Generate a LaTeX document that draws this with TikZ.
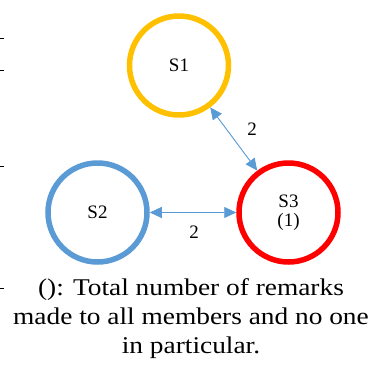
\documentclass[tikz,border=0pt]{standalone}
\usepackage{fontspec}
\setmainfont{Liberation Serif}
\newfontfamily\capfont[FakeStretch=1.14]{Liberation Serif}
\newfontfamily\lblfont{Liberation Serif}
\usetikzlibrary{arrows.meta}
\definecolor{sorange}{RGB}{255,192,0}
\definecolor{sblue}{RGB}{91,155,213}
\definecolor{sred}{RGB}{255,0,0}
\begin{document}
\begin{tikzpicture}[x=1pt,y=-1pt,
  member/.style={circle,draw,line width=5.5pt,minimum size=99pt,inner sep=0pt,font=\lblfont\fontsize{19}{23}\selectfont,align=center},
  link/.style={draw=sblue,line width=0.9pt,{Triangle[length=12pt,width=11pt]}-{Triangle[length=12pt,width=11pt]},fill=sblue},
  tick/.style={draw=black,line width=0.6pt},
  numlbl/.style={font=\lblfont\fontsize{19}{20}\selectfont}]
\useasboundingbox (0,0) rectangle (378,365);
\node[member,draw=sorange] (s1) at (179,65.5) {S1};
\node[member,draw=sblue] (s2) at (97.5,212.5) {S2};
\node[member,draw=sred] (s3) at (288.5,212.5) {\raisebox{-3pt}{\shortstack{S3\\[3pt](1)}}};
\draw[link] (s1) -- (s3);
\draw[link] (s2) -- (s3);
\node[numlbl] (l1) at (252,129) {2};
\node[numlbl] (l2) at (194,232) {2};
\node[align=center,font=\capfont\fontsize{24}{29}\selectfont] (cap) at (191,319) {(): Total number of remarks\\made to all members and no one\\in particular.};
\coordinate (t1a) at (0,38); \coordinate (t1b) at (4,38);
\coordinate (t2a) at (0,70); \coordinate (t2b) at (4,70);
\coordinate (t3a) at (0,166.5); \coordinate (t3b) at (4,166.5);
\coordinate (t4a) at (0,288); \coordinate (t4b) at (4,288);
\draw[tick] (t1a) -- (t1b);
\draw[tick] (t2a) -- (t2b);
\draw[tick] (t3a) -- (t3b);
\draw[tick] (t4a) -- (t4b);
\end{tikzpicture}
\end{document}
